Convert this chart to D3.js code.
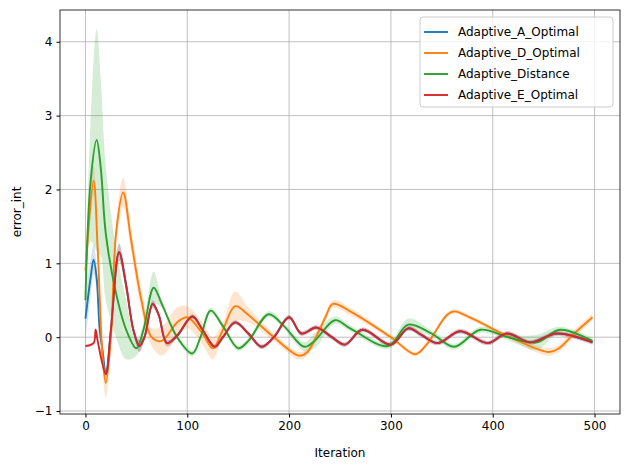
<!DOCTYPE html><html><head><meta charset="utf-8"><script src="https://cdn.jsdelivr.net/npm/d3@7"></script>
<style>body{margin:0;background:#fff}text{font-family:"DejaVu Sans",sans-serif}</style></head><body><svg id="c" width="630" height="470"></svg><script>
const seriesNames=["Adaptive_A_Optimal","Adaptive_D_Optimal","Adaptive_Distance","Adaptive_E_Optimal"];
const colors=["#1f77b4","#ff7f0e","#2ca02c","#d62728"];
const xTicks=[0,100,200,300,400,500];
const yTicks=[-1,0,1,2,3,4];
const redX=[0,8,10,12,20,25,33,40,47,53,58,66,72,80,90,105,115,127,135,147,160,173,185,200,212,227,242,255,272,300,317,330,346,368,395,414,437,463,498];
const redY=[-0.12,-0.08,0.1,-0.05,-0.5,0.1,1.15,0.7,0.1,-0.12,0,0.45,0.3,-0.08,0.02,0.28,0.1,-0.13,0,0.2,0.05,-0.13,0,0.27,0.05,0.13,0.0,-0.1,0.1,-0.1,0.12,0.03,-0.08,0.08,-0.08,0.05,-0.07,0.05,-0.07];
const redW=[0.02,0.02,0.03,0.03,0.05,0.05,0.12,0.08,0.05,0.08,0.03,0.05,0.03,0.04,0.03,0.03,0.03,0.03,0.03,0.03,0.03,0.03,0.03,0.03,0.03,0.03,0.03,0.03,0.03,0.03,0.03,0.03,0.03,0.03,0.03,0.03,0.03,0.03,0.03];
const blueX=[0,5,8,11,14,17,20];
const blueY=[0.25,0.8,1.05,0.8,0.1,-0.2,-0.5];
const blueW=[0.3,0.25,0.2,0.15,0.1,0.05,0.05];
const orangeX=[0,8,12,17,20,25,30,37,45,55,65,75,90,100,115,125,135,147,160,185,210,218,235,243,260,300,324,335,355,362,380,420,455,465,480,498];
const orangeY=[0.9,2.12,1.2,-0.3,-0.62,0,1.4,1.96,1.3,0.5,0.0,-0.05,0.2,0.27,0.05,-0.15,0.1,0.42,0.3,0,-0.25,-0.2,0.25,0.45,0.35,0.0,-0.23,-0.1,0.3,0.35,0.25,-0.02,-0.2,-0.15,0.05,0.27];
const orangeW=[0.2,0.2,0.15,0.15,0.2,0.15,0.15,0.2,0.15,0.15,0.12,0.2,0.2,0.15,0.15,0.15,0.1,0.2,0.1,0.05,0.05,0.05,0.05,0.05,0.05,0.03,0.03,0.03,0.03,0.03,0.03,0.03,0.05,0.05,0.05,0.05];
const greenX=[0,5,11,15,20,30,40,50,57,67,75,90,105,113,123,135,150,160,180,195,215,225,245,260,297,317,340,362,388,415,443,466,498];
const greenY=[0.5,2.1,2.67,2.3,1.4,0.6,0.1,-0.15,0.1,0.67,0.45,0,-0.22,0,0.36,0.15,-0.15,-0.05,0.31,0.15,-0.13,-0.05,0.23,0.12,-0.12,0.17,0.05,-0.13,0.1,0.0,-0.07,0.1,-0.05];
const greenW=[0.1,0.8,1.5,1.2,0.9,0.6,0.4,0.1,0.1,0.22,0.05,0.04,0.04,0.04,0.04,0.04,0.04,0.04,0.04,0.04,0.06,0.1,0.05,0.04,0.04,0.08,0.04,0.04,0.04,0.04,0.1,0.04,0.04];
const W=630,H=470,m={l:60,r:10,t:10,b:56};
const svg=d3.select("#c");
const x=d3.scaleLinear().domain([-25,525]).range([m.l,W-m.r]);
const y=d3.scaleLinear().domain([-1.04,4.43]).range([H-m.b,m.t]);
const g=svg.append("g");
xTicks.forEach(t=>g.append("line").attr("x1",x(t)).attr("x2",x(t)).attr("y1",m.t).attr("y2",H-m.b).attr("stroke","#b0b0b0").attr("stroke-width",0.8));
yTicks.forEach(t=>g.append("line").attr("y1",y(t)).attr("y2",y(t)).attr("x1",m.l).attr("x2",W-m.r).attr("stroke","#b0b0b0").attr("stroke-width",0.8));
function mk(X,Y,Wd){return X.map((v,i)=>({x:v,y:Y[i],w:Wd[i]}));}
const redD=mk(redX,redY,redW);
const blueD=mk(blueX,blueY,blueW).concat(redD.filter(d=>d.x>20));
const data=[blueD,mk(orangeX,orangeY,orangeW),mk(greenX,greenY,greenW),redD];
const curve=d3.curveCatmullRom.alpha(0.5);
const area=d3.area().x(d=>x(d.x)).y0(d=>y(d.y-d.w)).y1(d=>y(d.y+d.w)).curve(curve);
const line=d3.line().x(d=>x(d.x)).y(d=>y(d.y)).curve(curve);
data.forEach((d,i)=>g.append("path").attr("d",area(d)).attr("fill",colors[i]).attr("opacity",0.2));
data.forEach((d,i)=>g.append("path").attr("d",line(d)).attr("fill","none").attr("stroke",colors[i]).attr("stroke-width",1.9));
svg.append("rect").attr("x",m.l).attr("y",m.t).attr("width",W-m.l-m.r).attr("height",H-m.t-m.b).attr("fill","none").attr("stroke","#000").attr("stroke-width",0.8);
const xa=svg.append("g").attr("transform",`translate(0,${H-m.b})`).call(d3.axisBottom(x).tickValues(xTicks).tickSize(3.5).tickPadding(4));
const ya=svg.append("g").attr("transform",`translate(${m.l},0)`).call(d3.axisLeft(y).tickValues(yTicks).tickSize(3.5).tickPadding(4).tickFormat(d=>d<0?"\u2212"+(-d):d));
[xa,ya].forEach(a=>{a.select(".domain").remove();a.selectAll("text").attr("font-size",12).attr("font-family","DejaVu Sans").attr("fill","#000");a.selectAll("line").attr("stroke","#000");});
svg.append("text").attr("x",(m.l+W-m.r)/2).attr("y",457).attr("text-anchor","middle").attr("font-size",12).text("Iteration");
svg.append("text").attr("transform",`translate(21,${(m.t+H-m.b)/2}) rotate(-90)`).attr("text-anchor","middle").attr("font-size",12).text("error_int");
const lg=svg.append("g").attr("transform","translate(420,17)");
lg.append("rect").attr("width",193).attr("height",90).attr("rx",3).attr("fill","#fff").attr("fill-opacity",0.8).attr("stroke","#ccc");
seriesNames.forEach((n,i)=>{const yy=15+i*21;lg.append("line").attr("x1",4).attr("x2",28).attr("y1",yy).attr("y2",yy).attr("stroke",colors[i]).attr("stroke-width",1.9);lg.append("text").attr("x",38).attr("y",yy+4.3).attr("font-size",12).text(n);});
</script></body></html>
